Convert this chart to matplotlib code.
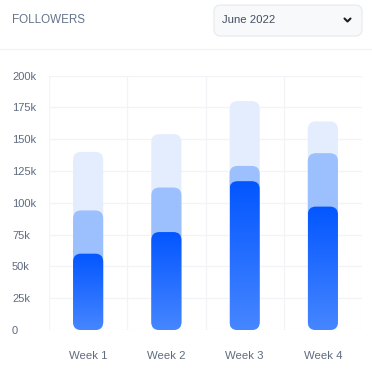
import numpy as np
import matplotlib.pyplot as plt
from matplotlib.patches import FancyBboxPatch
from matplotlib.colors import LinearSegmentedColormap

weeks = ["Week 1", "Week 2", "Week 3", "Week 4"]
total = [140, 154, 180, 164]      # thousands
engaged = [94, 112, 129, 139]
active = [60, 77, 117, 97]
yticks = [0, 25, 50, 75, 100, 125, 150, 175, 200]

W, H = 372, 374
fig = plt.figure(figsize=(W / 100, H / 100), dpi=100)
plt.rcParams["font.family"] = ["Liberation Sans", "DejaVu Sans"]

ax = fig.add_axes([49 / W, 1 - 330 / H, (362 - 49) / W, (330 - 75.6) / H])
ax.set_xlim(-0.5, 3.5)
ax.set_ylim(0, 200)

# grid
for y in yticks:
    ax.axhline(y, color="#F1F3F6", lw=0.9, zorder=0)
for x in np.arange(-0.5, 4, 1):
    ax.axvline(x, color="#F1F3F6", lw=0.9, zorder=0)

for s in ax.spines.values():
    s.set_visible(False)

ax.set_yticks(yticks)
ax.set_yticklabels(["0"] + [f"{v}k" for v in yticks[1:]])
ax.set_xticks(range(len(weeks)))
ax.set_xticklabels(weeks)
ax.tick_params(axis="y", length=0, pad=26.6, labelsize=8, labelcolor="#5F6B7E")
ax.tick_params(axis="x", length=0, pad=15, labelsize=8.2, labelcolor="#5F6B7E")
for t in ax.get_yticklabels():
    t.set_ha("left")

bw = 0.385
px_x = 78.25          # pixels per x unit
px_y = 254.4 / 200    # pixels per y unit
r_px = 8
rx = r_px / px_x
aspect = (r_px / px_y) / rx

cmap = LinearSegmentedColormap.from_list("blue", ["#4686FF", "#0356FF"])
grad = np.linspace(0, 1, 256).reshape(-1, 1)


def rounded_bar(x, h, color=None, gradient=False, z=2):
    p = FancyBboxPatch((x - bw / 2, 0), bw, h,
                       boxstyle=f"round,pad=0,rounding_size={rx}",
                       mutation_aspect=aspect,
                       fc=color if color else "none", ec="none", zorder=z)
    ax.add_patch(p)
    if gradient:
        im = ax.imshow(grad, cmap=cmap, origin="lower", aspect="auto",
                       extent=(x - bw / 2, x + bw / 2, 0, h), zorder=z)
        im.set_clip_path(p)
    return p


for i in range(len(weeks)):
    rounded_bar(i, total[i], "#E4EDFD", z=2)
    rounded_bar(i, engaged[i], "#9CBFFD", z=3)
    rounded_bar(i, active[i], gradient=True, z=4)

ax.set_xlim(-0.5, 3.5)
ax.set_ylim(0, 200)

# header
fig.text(12 / W, 1 - 20 / H, "FOLLOWERS", fontsize=8.4, color="#65748A",
         va="center", ha="left")
box = FancyBboxPatch((214 / W, 1 - 36 / H), 148 / W, 31 / H,
                     boxstyle="round,pad=0,rounding_size=0.018",
                     transform=fig.transFigure, fc="#F8F9FB", ec="#E6E9EE",
                     lw=0.8)
fig.patches.append(box)
fig.text(222 / W, 1 - 20 / H, "June 2022", fontsize=8.2, color="#454E5E",
         va="center", ha="left")
fig.add_artist(plt.Line2D([344.5 / W, 347.5 / W, 350.5 / W],
                          [1 - 18.5 / H, 1 - 21.5 / H, 1 - 18.5 / H],
                          transform=fig.transFigure, color="#1E1E1E",
                          lw=1.5, solid_capstyle="round",
                          solid_joinstyle="round"))
fig.add_artist(plt.Line2D([0, 1], [1 - 49 / H, 1 - 49 / H],
                          transform=fig.transFigure, color="#F0F2F5", lw=0.9))

fig.savefig("out.png", dpi=100)
